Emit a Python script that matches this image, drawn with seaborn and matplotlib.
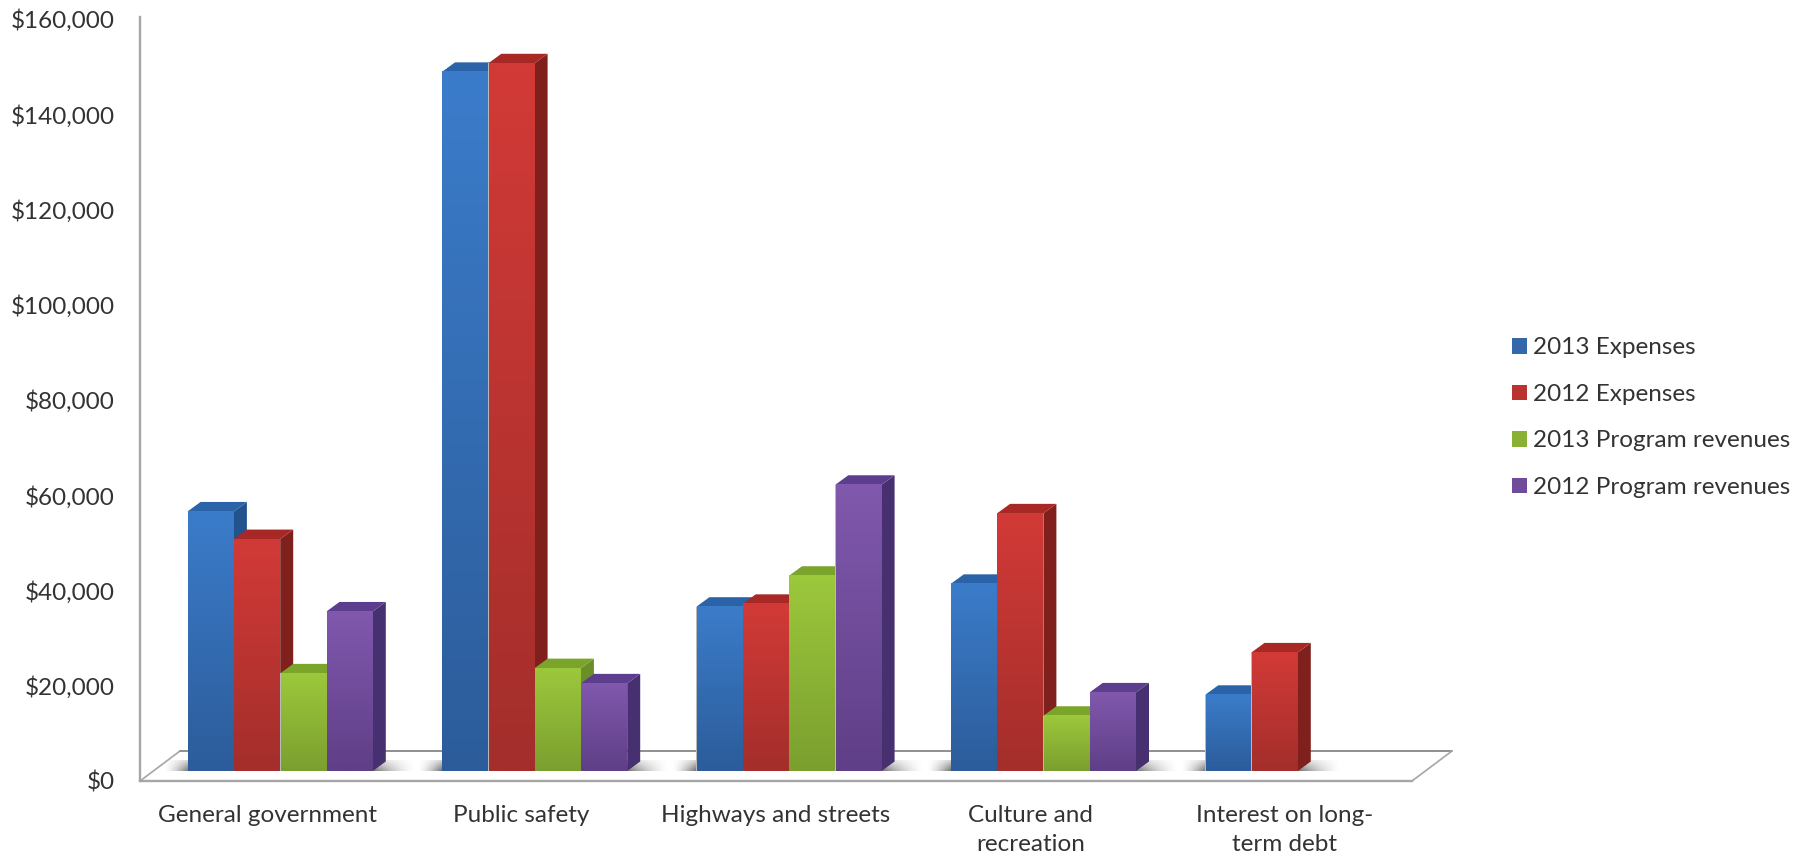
import numpy as np
import pandas as pd
import matplotlib
matplotlib.use('Agg')
import matplotlib.pyplot as plt
import seaborn as sns
from matplotlib.colors import LinearSegmentedColormap
from matplotlib.patches import Polygon
from matplotlib.ticker import FuncFormatter

categories = ['General government', 'Public safety', 'Highways and streets',
              'Culture and\nrecreation', 'Interest on long-\nterm debt']
series_names = ['2013 Expenses', '2012 Expenses', '2013 Program revenues', '2012 Program revenues']
expenses_2013 = [54500, 146800, 34500, 39300, 16000]
expenses_2012 = [48700, 148600, 35100, 54100, 24900]
revenues_2013 = [20500, 21600, 41000, 11600, np.nan]
revenues_2012 = [33500, 18400, 60100, 16500, np.nan]
y_ticks = [0, 20000, 40000, 60000, 80000, 100000, 120000, 140000, 160000]

# colours for each series: palette, face top, face bottom, side, lid
palette = ['#3568ab', '#bb3331', '#8ab135', '#6f4c9b']
face_top = ['#3b7cca', '#d23a37', '#9cc83c', '#8058ad']
face_bot = ['#2c5c9a', '#a32e2b', '#7b9f2f', '#5f3f87']
side_col = ['#24528c', '#7f201d', '#6a8f28', '#47306f']
lid_col = ['#2a63a8', '#a82825', '#7aa52a', '#5c3d8e']

df = pd.DataFrame({'category': categories * 4,
                   'series': np.repeat(series_names, 5),
                   'value': expenses_2013 + expenses_2012 + revenues_2013 + revenues_2012})

sns.set_style('white')
plt.rcParams['font.family'] = ['Lato', 'DejaVu Sans']
text_col = '#333333'
font_size = 17.5

W, H = 1812, 860
fig = plt.figure(figsize=(W / 100, H / 100), dpi=100, facecolor='white')
ax = fig.add_axes([140 / W, (H - 781) / H, 1272 / W, 762 / H])

sns.barplot(data=df, x='category', y='value', hue='series', order=categories,
            hue_order=series_names, palette=palette, saturation=1, width=0.728,
            gap=0, errorbar=None, linewidth=0, ax=ax)
ax.set_xlim(-0.5, 4.5)
ax.set_ylim(0, 160000)

# size of a pixel in data units
px_x = 5 / 1272
px_y = 160000 / 762
dx = 13 * px_x       # bars sit forward of the labels
depth_x = 13 * px_x
depth_y = 9.5 * px_y
base = 10 * px_y     # floor of the bars


def vgrad(top, bot):
    return LinearSegmentedColormap.from_list('g', [top, bot])(np.linspace(0, 1, 128))[:, None, :3]


groups = {}
bars = []
for i, cont in enumerate(ax.containers):
    for p in cont:
        h = p.get_height()
        if not np.isfinite(h) or h <= 0:
            p.set_visible(False)
            continue
        cat = int(round(p.get_x() + p.get_width() / 2))
        p.set_x(p.get_x() + dx)
        p.set_y(base)
        p.set_visible(False)
        bars.append((p.get_x(), p, i))
        g = groups.setdefault(cat, [p.get_x(), p.get_x() + p.get_width()])
        g[0] = min(g[0], p.get_x())
        g[1] = max(g[1], p.get_x() + p.get_width())

# left to right so that each bar covers the side of the previous one
for k, (x0, p, i) in enumerate(sorted(bars, key=lambda b: b[0])):
    z = 4 + k * 0.01
    x1 = x0 + p.get_width()
    y1 = base + p.get_height()
    ax.add_patch(Polygon([(x1, base), (x1 + depth_x, base + depth_y),
                          (x1 + depth_x, y1 + depth_y), (x1, y1)],
                         closed=True, fc=side_col[i], ec='none', zorder=z))
    ax.add_patch(Polygon([(x0, y1), (x0 + depth_x, y1 + depth_y),
                          (x1 + depth_x, y1 + depth_y), (x1, y1)],
                         closed=True, fc=lid_col[i], ec='none', zorder=z))
    # faint light seam between neighbours
    ax.add_patch(Polygon([(x0, base), (x1, base), (x1, y1), (x0, y1)],
                         closed=True, fc='#b9b9b9', ec='none', zorder=z + 0.002))
    ax.imshow(vgrad(face_top[i], face_bot[i]), extent=(x0 + 0.4 * px_x, x1 - 0.4 * px_x, base, y1),
              aspect='auto', interpolation='bilinear', zorder=z + 0.005)

# shadows on the floor either side of each group
fade = np.linspace(0, 1, 64) ** 1.5
for cat, (left, right) in groups.items():
    for xa, xb, a in [(left - 24 * px_x, left, fade), (right, right + 42 * px_x, fade[::-1])]:
        img = np.ones((16, 64, 4))
        img[..., :3] = 0.45
        img[..., 3] = a[None, :] * np.linspace(0.3, 1, 16)[:, None]
        ax.imshow(img, extent=(xa, xb, base, base + 11 * px_y), aspect='auto',
                  interpolation='bilinear', zorder=2)

# floor outline
grey = '#a6a6a6'
floor_back = base + 20 * px_y
ax.plot([-0.5, -0.5 + 40 * px_x], [0, floor_back], color=grey, lw=1.2, clip_on=False, zorder=1)
ax.plot([-0.5 + 40 * px_x, 4.5 + 40 * px_x], [floor_back, floor_back], color='#8f8f8f', lw=1.4, clip_on=False, zorder=1)
ax.plot([4.5, 4.5 + 40 * px_x], [0, floor_back], color=grey, lw=1.2, clip_on=False, zorder=1)

sns.despine(ax=ax, right=True, top=True)
for side in ['left', 'bottom']:
    ax.spines[side].set_color(grey)
    ax.spines[side].set_linewidth(1.7)
ax.spines['left'].set_bounds(0, 160400)

ax.set_yticks(y_ticks)
ax.yaxis.set_major_formatter(FuncFormatter(lambda v, _: f'${v:,.0f}'))
ax.tick_params(axis='y', length=0, pad=18, labelsize=font_size, labelcolor=text_col)
ax.tick_params(axis='x', length=0, pad=17, labelsize=font_size, labelcolor=text_col)
for t in ax.get_xticklabels():
    t.set_linespacing(1.47)
ax.set_xlabel('')
ax.set_ylabel('')

sns.move_legend(ax, 'center left', bbox_to_anchor=(1372 / 1272, 0.4768), frameon=False,
                title=None, fontsize=font_size, labelspacing=1.05, handlelength=0.61,
                handleheight=0.61, handletextpad=0.24, borderpad=0, borderaxespad=0,
                labelcolor=text_col)

fig.savefig('out.png', dpi=100, facecolor='white')
